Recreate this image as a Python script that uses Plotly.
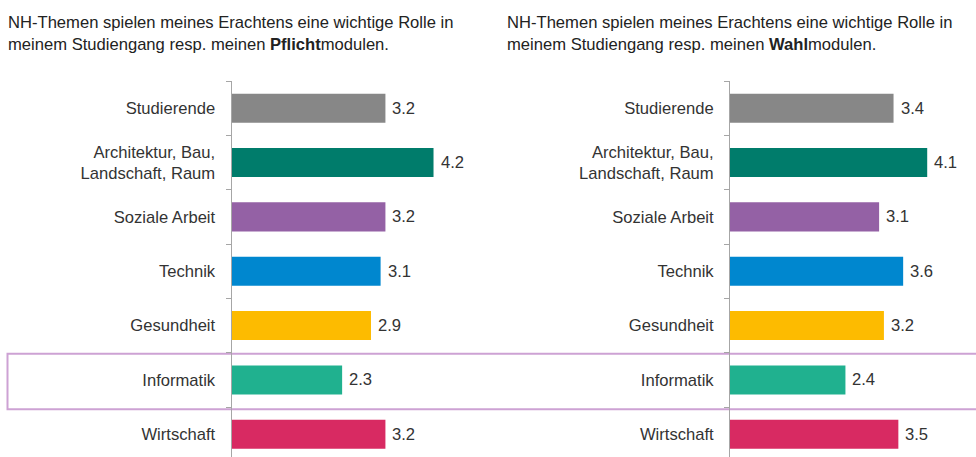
import plotly.graph_objects as go

categories = ["Studierende", "Architektur, Bau,<br>Landschaft, Raum", "Soziale Arbeit",
              "Technik", "Gesundheit", "Informatik", "Wirtschaft"]
pflicht_values = [3.2, 4.2, 3.2, 3.1, 2.9, 2.3, 3.2]
wahl_values = [3.4, 4.1, 3.1, 3.6, 3.2, 2.4, 3.5]
bar_colors = ["#878787", "#007c6b", "#9461a5", "#0087cf", "#fdbb00", "#20b18f", "#d82a62"]
title_left = "NH-Themen spielen meines Erachtens eine wichtige Rolle in<br>meinem Studiengang resp. meinen <b>Pflicht</b>modulen."
title_right = "NH-Themen spielen meines Erachtens eine wichtige Rolle in<br>meinem Studiengang resp. meinen <b>Wahl</b>modulen."

W, H = 976, 457
FONT = "Liberation Sans, Arial, sans-serif"
TXT = "#333333"
FS = 16.6

fig = go.Figure()
for vals, xa, ya in [(pflicht_values, "x", "y"), (wahl_values, "x2", "y2")]:
    fig.add_trace(go.Bar(
        x=vals, y=categories, orientation="h", xaxis=xa, yaxis=ya,
        marker=dict(color=bar_colors, line=dict(width=0)),
        hoverinfo="skip", showlegend=False, width=0.535,
    ))
    for v, c in zip(vals, categories):
        fig.add_annotation(x=v, y=c, xref=xa, yref=ya, text=f"{v:.1f}",
                           showarrow=False, xanchor="left", xshift=5,
                           font=dict(family=FONT, size=FS, color=TXT))

top = 81
plot_h = H - top
yrange = [-0.5 + plot_h / 54.35, -0.5]
yax = dict(type="category", range=yrange, showline=True, linecolor="#a6a6a6", linewidth=1,
           ticks="outside", tickson="boundaries", ticklen=5, tickcolor="#a6a6a6",
           showgrid=False, zeroline=False, fixedrange=True,
           tickfont=dict(family=FONT, size=FS, color=TXT), ticklabelstandoff=12)
xax = dict(range=[0, 5], visible=False, fixedrange=True)

lx = 231.5
rx = 730
fig.update_layout(
    width=W, height=H,
    margin=dict(l=0, r=0, t=top, b=0),
    paper_bgcolor="white", plot_bgcolor="white",
    xaxis=dict(domain=[lx / W, (lx + 5 * 48.1) / W], **xax),
    xaxis2=dict(domain=[rx / W, min(1, (rx + 5 * 48.1) / W)], **xax),
    yaxis=dict(anchor="x", **yax),
    yaxis2=dict(anchor="x2", **yax),
)

for x0, t in [(6, title_left), (505, title_right)]:
    fig.add_annotation(x=x0 / W, y=1, xref="paper", yref="paper", yshift=top - 11,
                       text=t, showarrow=False, xanchor="left", yanchor="top", align="left",
                       font=dict(family=FONT, size=FS, color="#222222"))

fig.add_shape(type="rect", xref="paper", yref="y", x0=7.5 / W, x1=1.02, y0=4.52, y1=5.54,
              line=dict(color="#cda2d4", width=2), fillcolor="rgba(0,0,0,0)", layer="below")

fig.write_html("out.html", config={"displayModeBar": False},
               post_script="document.body.style.margin='0';document.body.style.overflow='hidden';")
